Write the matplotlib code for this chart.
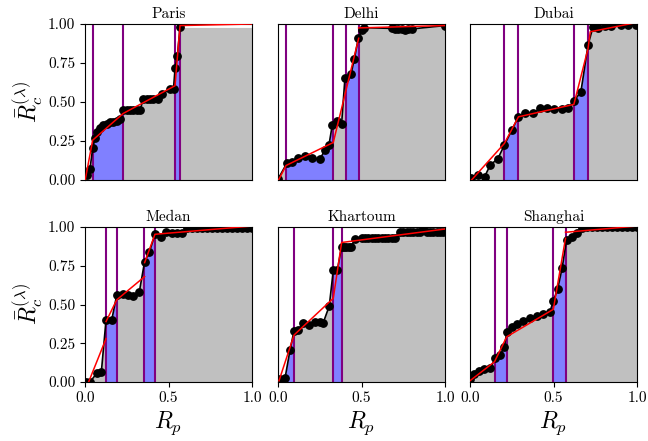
import numpy as np
import matplotlib
matplotlib.use("Agg")
import matplotlib.pyplot as plt
from matplotlib.patches import Rectangle

plt.rcParams.update({
    "font.family": "serif",
    "font.serif": ["cmr10"],
    "mathtext.fontset": "cm",
    "axes.formatter.use_mathtext": True,
    "axes.unicode_minus": False,
})

cities = ["Paris", "Delhi", "Dubai", "Medan", "Khartoum", "Shanghai"]

# ---- Paris ----
paris_x = [0.014, 0.03, 0.046, 0.06, 0.074, 0.09, 0.11, 0.13, 0.15, 0.17, 0.19, 0.21, 0.23,
           0.25, 0.27, 0.29, 0.31, 0.33, 0.35, 0.37, 0.39, 0.41, 0.44, 0.46, 0.51, 0.53,
           0.54, 0.553, 0.569]
paris_y = [0.028, 0.07, 0.20, 0.264, 0.306, 0.33, 0.35, 0.36, 0.37, 0.372, 0.375, 0.39, 0.45,
           0.45, 0.45, 0.45, 0.45, 0.45, 0.517, 0.517, 0.517, 0.517, 0.517, 0.55, 0.58, 0.585,
           0.72, 0.794, 0.978]
paris_fit_x = [0.0, 0.046, 0.229, 0.539, 0.569, 1.0]
paris_fit_y = [-0.01, 0.253, 0.425, 0.603, 0.99, 1.0]
paris_lines = [0.046, 0.229, 0.539, 0.569]

# ---- Delhi ----
delhi_x = [0.002, 0.052, 0.082, 0.122, 0.162, 0.202, 0.251, 0.281, 0.305, 0.325, 0.351,
           0.381, 0.401, 0.437, 0.457, 0.481, 0.505, 0.517, 0.681, 0.701, 0.721, 0.740,
           0.760, 0.780, 0.800, 1.0]
delhi_y = [0.006, 0.103, 0.113, 0.139, 0.152, 0.139, 0.131, 0.189, 0.221, 0.35, 0.375,
           0.36, 0.654, 0.676, 0.775, 0.908, 0.961, 0.976, 0.972, 0.968, 0.968, 0.965,
           0.961, 0.965, 0.968, 0.99]
delhi_fit_x = [0.0, 0.048, 0.331, 0.483, np.nan, 0.483, 1.0]
delhi_fit_y = [-0.01, 0.09, 0.238, 0.908, np.nan, 0.975, 0.99]
delhi_lines = [0.048, 0.331, 0.407, 0.483]

# ---- Dubai ----
dubai_x = [0.008, 0.048, 0.087, 0.121, 0.167, 0.206, 0.25, 0.29, 0.33, 0.38, 0.42, 0.46,
           0.50, 0.55, 0.585, 0.622, 0.664, 0.707, 0.737, 0.767, 0.807, 0.847, 0.906,
           0.946, 0.995]
dubai_y = [0.01, 0.032, 0.017, 0.092, 0.135, 0.221, 0.317, 0.403, 0.425, 0.429, 0.457,
           0.457, 0.453, 0.453, 0.457, 0.504, 0.564, 0.865, 0.983, 0.976, 0.985, 0.99,
           0.995, 0.995, 0.995]
dubai_fit_x = [0.008, 0.206, 0.29, 0.622, 0.707, 0.72, 1.0]
dubai_fit_y = [-0.005, 0.232, 0.403, 0.483, 0.843, 0.95, 1.01]
dubai_lines = [0.206, 0.29, 0.622, 0.707]

# ---- Medan ----
medan_x = [0.006, 0.03, 0.07, 0.098, 0.126, 0.16, 0.19, 0.225, 0.26, 0.29, 0.325, 0.357,
           0.385, 0.419, 0.453, 0.485, 0.52, 0.55, 0.58, 0.61, 0.64, 0.67, 0.70, 0.73,
           0.76, 0.79, 0.82, 0.85, 0.88, 0.91, 0.94, 0.97, 1.0]
medan_y = [0.002, 0.0, 0.056, 0.066, 0.40, 0.40, 0.56, 0.57, 0.56, 0.555, 0.58, 0.776,
           0.837, 0.953, 0.937, 0.966, 0.96, 0.96, 0.96, 0.995, 0.995, 0.995, 0.995, 0.995,
           0.995, 0.995, 0.995, 0.995, 0.995, 0.995, 0.995, 0.995, 0.995]
medan_fit_x = [0.018, 0.126, np.nan, 0.126, 0.19, 0.357, np.nan, 0.357, 0.419, 1.0]
medan_fit_y = [-0.01, 0.28, np.nan, 0.39, 0.53, 0.68, np.nan, 0.77, 0.953, 1.006]
medan_lines = [0.126, 0.19, 0.353, 0.419]

# ---- Khartoum ----
khartoum_x = [0.012, 0.042, 0.072, 0.096, 0.12, 0.152, 0.186, 0.222, 0.25, 0.27, 0.307,
              0.331, 0.355, 0.381, 0.395, 0.41, 0.425, 0.44, 0.461, 0.50, 0.52, 0.54, 0.56,
              0.58, 0.60, 0.62, 0.64, 0.66, 0.68, 0.70, 0.73, 0.75, 0.77, 0.79, 0.81, 0.83,
              0.85, 0.87, 0.89, 0.91, 0.93, 0.95, 0.97, 0.99]
khartoum_y = [0.017, 0.024, 0.206, 0.33, 0.335, 0.383, 0.37, 0.39, 0.39, 0.38, 0.49,
              0.72, 0.72, 0.873, 0.873, 0.873, 0.873, 0.873, 0.923, 0.932, 0.932, 0.932,
              0.932, 0.932, 0.932, 0.932, 0.932, 0.932, 0.932, 0.932, 0.97, 0.97, 0.97,
              0.97, 0.97, 0.97, 0.97, 0.997, 0.966, 0.966, 0.966, 0.966, 0.966, 0.966]
khartoum_fit_x = [0.006, 0.096, 0.331, 0.381, 1.0]
khartoum_fit_y = [0.008, 0.303, 0.54, 0.90, 0.987]
khartoum_lines = [0.0, 0.096, 0.331, 0.381]

# ---- Shanghai ----
shanghai_x = [0.002, 0.021, 0.051, 0.081, 0.121, 0.151, 0.181, 0.206, 0.221, 0.25, 0.28,
              0.32, 0.36, 0.40, 0.439, 0.479, 0.499, 0.525, 0.552, 0.578, 0.608, 0.638,
              0.668, 0.70, 0.73, 0.76, 0.79, 0.82, 0.85, 0.88, 0.91, 0.94, 0.97, 1.0]
shanghai_y = [0.017, 0.05, 0.071, 0.084, 0.088, 0.153, 0.174, 0.228, 0.325, 0.357, 0.372,
              0.394, 0.415, 0.426, 0.437, 0.454, 0.523, 0.60, 0.737, 0.916, 0.937, 0.959,
              0.992, 0.998, 0.998, 0.998, 0.998, 0.998, 0.998, 0.998, 0.998, 0.998, 0.998,
              0.998]
shanghai_fit_x = [0.0, 0.147, 0.22, 0.499, 0.572, np.nan, 0.572, 1.0]
shanghai_fit_y = [0.008, 0.131, 0.292, 0.469, 0.927, np.nan, 0.966, 1.006]
shanghai_lines = [0.147, 0.22, 0.499, 0.572]

y_ticks = [0.0, 0.25, 0.5, 0.75, 1.0]
y_ticklabels = ["0.00", "0.25", "0.50", "0.75", "1.00"]
x_ticks = [0.0, 0.5, 1.0]
x_ticklabels = ["0.0", "0.5", "1.0"]

data = {
    "Paris": (paris_x, paris_y, paris_fit_x, paris_fit_y, paris_lines),
    "Delhi": (delhi_x, delhi_y, delhi_fit_x, delhi_fit_y, delhi_lines),
    "Dubai": (dubai_x, dubai_y, dubai_fit_x, dubai_fit_y, dubai_lines),
    "Medan": (medan_x, medan_y, medan_fit_x, medan_fit_y, medan_lines),
    "Khartoum": (khartoum_x, khartoum_y, khartoum_fit_x, khartoum_fit_y, khartoum_lines),
    "Shanghai": (shanghai_x, shanghai_y, shanghai_fit_x, shanghai_fit_y, shanghai_lines),
}

W, H = 648, 441
fig = plt.figure(figsize=(W / 100, H / 100), dpi=100)
lefts = [85, 278, 470]
pw = 167
row_tb = [(24, 179.5), (227, 382)]

for i, city in enumerate(cities):
    r, c = divmod(i, 3)
    top, bot = row_tb[r]
    ax = fig.add_axes([lefts[c] / W, 1 - bot / H, pw / W, (bot - top) / H])
    x, y, fx, fy, lines = data[city]
    xf = np.array([0.0] + list(x) + [1.0])
    yf = np.array([0.0] + list(y) + [y[-1]])
    if x[0] > 0:
        yf[0] = y[0]
    ax.fill_between(xf, yf, color="#c0c0c0", lw=0, zorder=1)
    for a, b in zip(lines[0::2], lines[1::2]):
        poly = ax.fill_between(xf, yf, color="#8080ff", lw=0, zorder=2)
        poly.set_clip_path(Rectangle((a, -0.1), b - a, 1.3, transform=ax.transData))
    for lx in lines:
        ax.axvline(lx, color="#800080", lw=1.5, zorder=2.3)
    ax.plot(x, y, "-o", color="black", lw=1.2, ms=5.3, zorder=4)
    ax.plot(fx, fy, color="red", lw=1.1, zorder=5)
    ax.set_xlim(0, 1)
    ax.set_ylim(0, 1)
    ax.set_title(city, fontsize=11, pad=4)
    ax.set_yticks(y_ticks)
    ax.set_xticks(x_ticks)
    if c == 0:
        ax.set_yticklabels(y_ticklabels, fontsize=11)
        ax.set_ylabel(r"$\bar{R}_c^{(\lambda)}$", fontsize=17, labelpad=2)
    else:
        ax.tick_params(left=False, labelleft=False)
    if r == 1:
        ax.set_xticklabels(x_ticklabels, fontsize=11)
        ax.set_xlabel(r"$R_p$", fontsize=17, labelpad=3)
    else:
        ax.tick_params(bottom=False, labelbottom=False)

fig.savefig("out.png", dpi=100)
